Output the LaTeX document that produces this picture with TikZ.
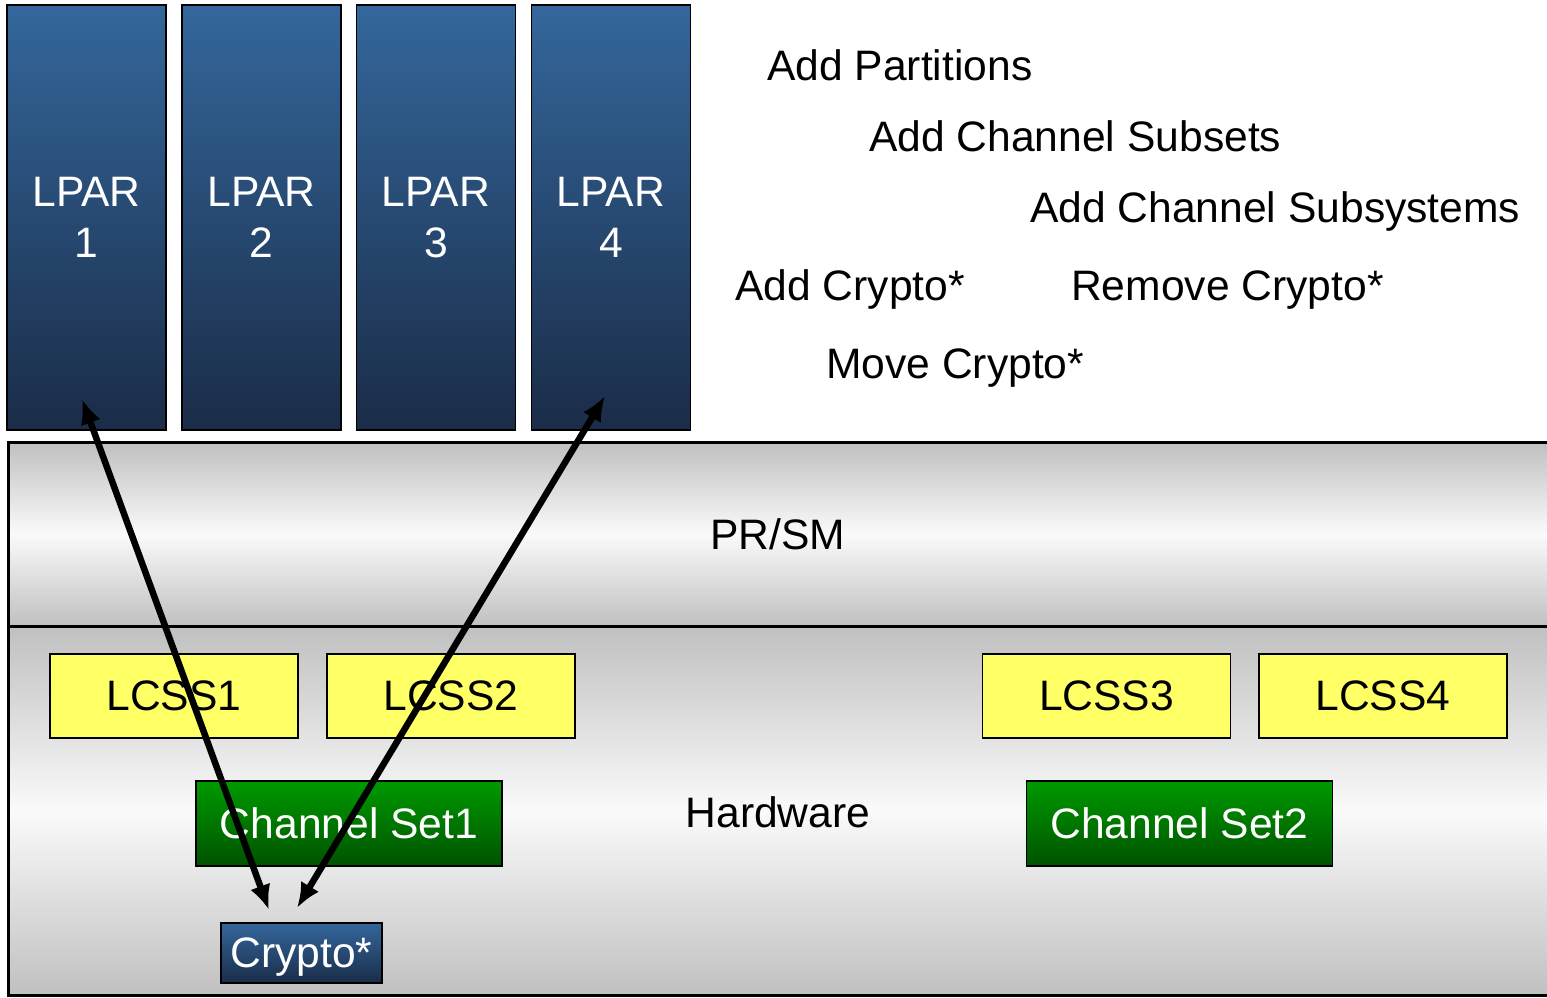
\documentclass[tikz,border=0pt]{standalone}
\usepackage{fontspec}
\setmainfont{Liberation Sans}
\usetikzlibrary{arrows.meta}
\definecolor{lparTop}{HTML}{34679C}
\definecolor{lparBot}{HTML}{1A2C48}
\definecolor{bandGray}{HTML}{C0C0C0}
\definecolor{bandLight}{HTML}{FAFAFA}
\definecolor{lcssYellow}{HTML}{FFFF66}
\definecolor{chanTop}{HTML}{009A00}
\definecolor{chanBot}{HTML}{005200}
\tikzset{
  big/.style={font=\fontsize{42.6}{51}\selectfont},
  lpar/.style={big, draw=black, line width=1.5pt, top color=lparTop, bottom color=lparBot,
    text=white, align=center, minimum width=159, minimum height=425, inner sep=0pt},
  band/.style={draw=black, line width=2.5pt, top color=bandGray, bottom color=bandGray,
    middle color=bandLight, anchor=north west, inner sep=0pt},
  lcss/.style={big, draw=black, line width=1.5pt, fill=lcssYellow,
    minimum width=248, minimum height=84, inner sep=0pt},
  chan/.style={big, draw=black, line width=1.5pt, top color=chanTop, bottom color=chanBot,
    text=white, minimum width=306, minimum height=85, inner sep=0pt},
  crypto/.style={big, draw=black, line width=1.5pt, top color=lparTop, bottom color=lparBot,
    text=white, minimum width=161, minimum height=60, inner sep=0pt, text depth=0pt},
  op/.style={big, anchor=base west, inner sep=0pt},
  title/.style={big, anchor=base, inner sep=0pt},
  link/.style={line width=6.5pt, {Latex[length=25pt,width=21pt]}-{Latex[length=25pt,width=21pt]}}
}
\begin{document}
\begin{tikzpicture}[x=1pt,y=-1pt]
\useasboundingbox (0,0) rectangle (1547,997);
\clip (0,0) rectangle (1547,997);

% logical partitions
\node[lpar] (lpar1) at (86.5,217.5) {LPAR\\1};
\node[lpar] (lpar2) at (261.5,217.5) {LPAR\\2};
\node[lpar] (lpar3) at (436,217.5) {LPAR\\3};
\node[lpar] (lpar4) at (611,217.5) {LPAR\\4};

% operations
\node[op] (opA) at (767,80) {Add Partitions};
\node[op] (opB) at (869,151) {Add Channel Subsets};
\node[op] (opC) at (1030,222) {Add Channel Subsystems};
\node[op] (opD) at (735,300) {Add Crypto*};
\node[op] (opE) at (1071,300) {Remove Crypto*};
\node[op] (opF) at (826,378) {Move Crypto*};

% PR/SM and hardware layers
\node[band, minimum width=1560, minimum height=184] (prsm) at (7,441) {};
\node[title] (prsmText) at (778,549) {PR/SM};
\node[band, minimum width=1560, minimum height=369] (hw) at (7,625) {};
\node[title] (hwText) at (778,827) {Hardware};

% logical channel subsystems
\node[lcss] (lcss1) at (174,696) {LCSS1};
\node[lcss] (lcss2) at (451,696) {LCSS2};
\node[lcss] (lcss3) at (1106.5,696) {LCSS3};
\node[lcss] (lcss4) at (1383,696) {LCSS4};

% channel sets
\node[chan] (cs1) at (349,823.5) {Channel Set1};
\node[chan] (cs2) at (1179.5,823.5) {Channel Set2};

% crypto card
\node[crypto] (crypto) at (301.5,953) {Crypto*};

% crypto moves between partitions
\coordinate (p1) at (82,399);
\coordinate (c1) at (269,910);
\coordinate (p4) at (605,396);
\coordinate (c4) at (297,908);
\draw[link] (p1) -- (c1);
\draw[link] (p4) -- (c4);
\end{tikzpicture}
\end{document}
